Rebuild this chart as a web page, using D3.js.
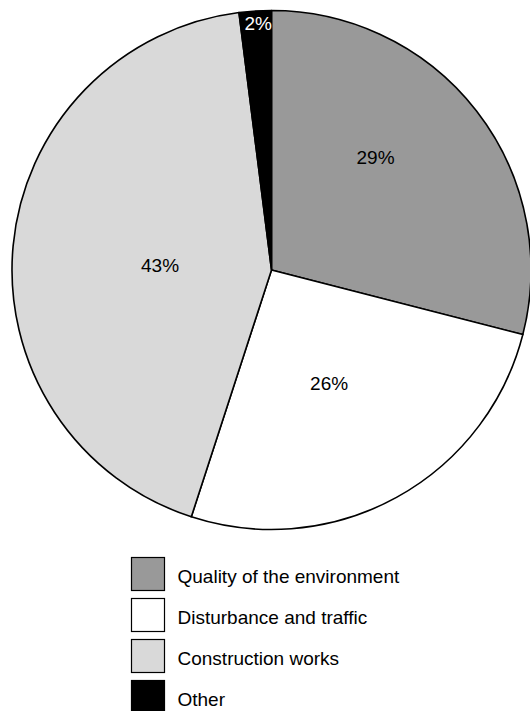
<!DOCTYPE html>
<html>
<head>
<meta charset="utf-8">
<script src="https://cdn.jsdelivr.net/npm/d3@7"></script>
<style>
  html, body { margin: 0; padding: 0; background: #ffffff; }
  svg { display: block; font-family: "Liberation Sans", Arial, sans-serif; }
</style>
</head>
<body>
<svg id="chart" width="530" height="711"></svg>
<script>
// Shares of responses by category (percent)
const categories = ["Quality of the environment", "Disturbance and traffic", "Construction works", "Other"];
const shares = [29, 26, 43, 2];
const sliceColors = ["#999999", "#ffffff", "#d9d9d9", "#000000"];
const labelColors = ["#000000", "#000000", "#000000", "#ffffff"];

// Where each percentage label sits inside its slice:
// fraction along the slice's sweep and fraction of the radius
const labelSweepFraction = [0.41, 0.52, 0.48, 0.57];
const labelRadiusFraction = [0.59, 0.49, 0.43, 0.95];

const svg = d3.select("#chart");
const cx = 271.5, cy = 270, radius = 259.5;

const pie = d3.pie().sort(null).value(d => d.value);
const rows = categories.map((c, i) => ({ name: c, value: shares[i], i }));
const arcs = pie(rows);

const arc = d3.arc().innerRadius(0).outerRadius(radius);

const g = svg.append("g").attr("transform", `translate(${cx},${cy})`);

g.selectAll("path.slice")
  .data(arcs)
  .join("path")
  .attr("class", "slice")
  .attr("d", arc)
  .attr("fill", d => sliceColors[d.data.i])
  .attr("stroke", "#000")
  .attr("stroke-width", 1.6)
  .attr("stroke-linejoin", "round");

g.selectAll("text.pct")
  .data(arcs)
  .join("text")
  .attr("class", "pct")
  .attr("x", d => {
    const a = d.startAngle + (d.endAngle - d.startAngle) * labelSweepFraction[d.data.i];
    return Math.sin(a) * radius * labelRadiusFraction[d.data.i];
  })
  .attr("y", d => {
    const a = d.startAngle + (d.endAngle - d.startAngle) * labelSweepFraction[d.data.i];
    return -Math.cos(a) * radius * labelRadiusFraction[d.data.i];
  })
  .attr("text-anchor", "middle")
  .attr("dominant-baseline", "central")
  .attr("font-size", 19)
  .attr("fill", d => labelColors[d.data.i])
  .text(d => d.data.value + "%");

// Legend
const legendX = 131.5, legendY = 557.5, rowStep = 41, box = 33;
const legend = svg.append("g").attr("transform", `translate(${legendX},${legendY})`);
const item = legend.selectAll("g.item")
  .data(rows)
  .join("g")
  .attr("class", "item")
  .attr("transform", (d, i) => `translate(0,${i * rowStep})`);

item.append("rect")
  .attr("width", box)
  .attr("height", box)
  .attr("fill", d => sliceColors[d.i])
  .attr("stroke", "#000")
  .attr("stroke-width", 1.2);

item.append("text")
  .attr("x", 46)
  .attr("y", box / 2 + 8.5)
  .attr("font-size", 19)
  .attr("fill", "#000")
  .text(d => d.name);
</script>
</body>
</html>
